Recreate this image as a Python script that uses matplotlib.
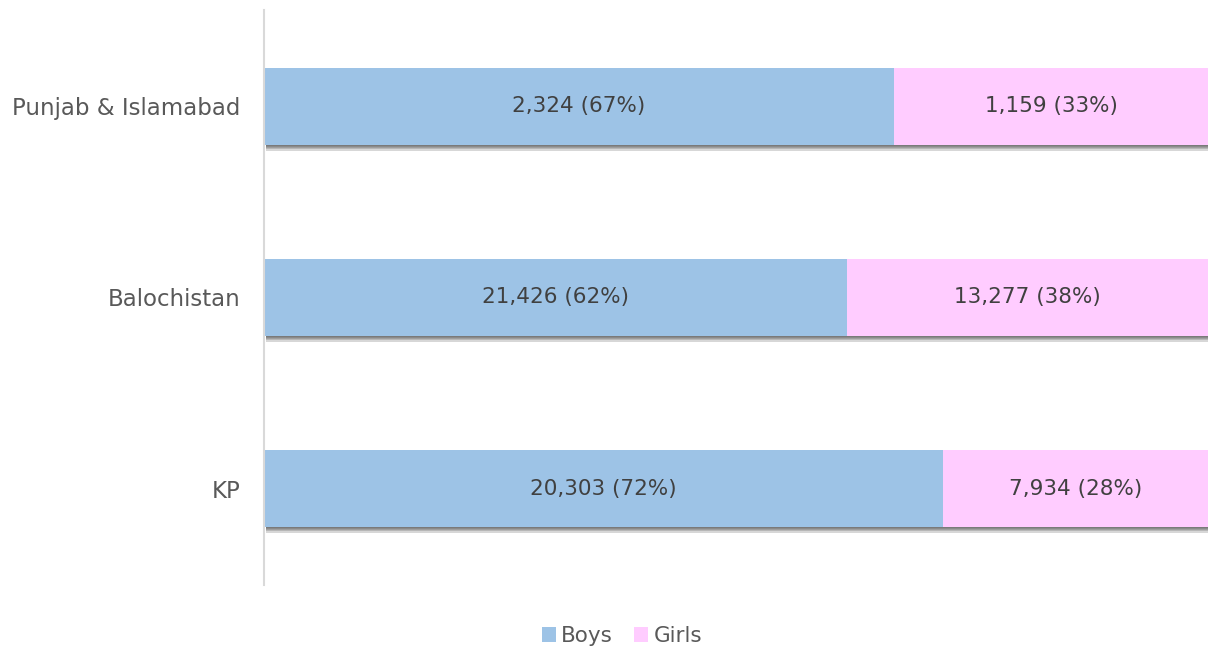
import matplotlib
matplotlib.use("Agg")
from matplotlib import pyplot as plt
from matplotlib import patheffects as pe

regions = ["Punjab & Islamabad", "Balochistan", "KP"]
boys = [2324, 21426, 20303]
girls = [1159, 13277, 7934]

boys_colour = "#9DC3E6"
girls_colour = "#FFCCFF"
text_colour = "#404040"

plt.rcParams["font.family"] = ["DejaVu Sans"]

fig = plt.figure(figsize=(12.08, 6.49), dpi=100)
ax = fig.add_axes([264 / 1208, 1 - 585 / 649, 1 - 264 / 1208, 575 / 649])

ypos = [2, 1, 0]
totals = [b + g for b, g in zip(boys, girls)]
boys_pct = [b / t * 100 for b, t in zip(boys, totals)]
girls_pct = [g / t * 100 for g, t in zip(girls, totals)]

# soft drop shadow: a few stacked offsets
shadow = [pe.SimplePatchShadow(offset=(1.4, -d), shadow_rgbFace="#3a3a3a", alpha=0.2)
          for d in (0.8, 1.6, 2.4, 3.2, 4.0)] + [pe.Normal()]
h = 0.403
ax.barh(ypos, [100] * 3, height=h, color="white", path_effects=shadow, zorder=1)
b1 = ax.barh(ypos, boys_pct, height=h, color=boys_colour, label="Boys", zorder=2)
b2 = ax.barh(ypos, girls_pct, left=boys_pct, height=h, color=girls_colour, label="Girls", zorder=2)

for y, b, g, bp, gp in zip(ypos, boys, girls, boys_pct, girls_pct):
    ax.text(bp / 2, y, f"{b:,} ({bp:.0f}%)", ha="center", va="center", fontsize=15.5, color=text_colour, zorder=3)
    ax.text(bp + gp / 2, y, f"{g:,} ({gp:.0f}%)", ha="center", va="center", fontsize=15.5, color=text_colour, zorder=3)

ax.set_xlim(0, 100)
ax.set_ylim(-0.505, 2.505)
ax.set_yticks(ypos)
ax.set_yticklabels(regions, fontsize=16.5, color="#595959")
ax.tick_params(axis="y", length=0, pad=17)
ax.set_xticks([])
for s in ["top", "right", "bottom"]:
    ax.spines[s].set_visible(False)
ax.spines["left"].set_color("#D9D9D9")
ax.spines["left"].set_linewidth(1.5)

fig.legend(handles=[b1, b2], loc="center", bbox_to_anchor=(622 / 1208, 1 - 636 / 649), ncol=2, frameon=False,
           fontsize=15.5, labelcolor="#595959", handlelength=0.65, handleheight=0.65, handletextpad=0.25,
           columnspacing=1.0)

fig.savefig("out.png", dpi=100)
